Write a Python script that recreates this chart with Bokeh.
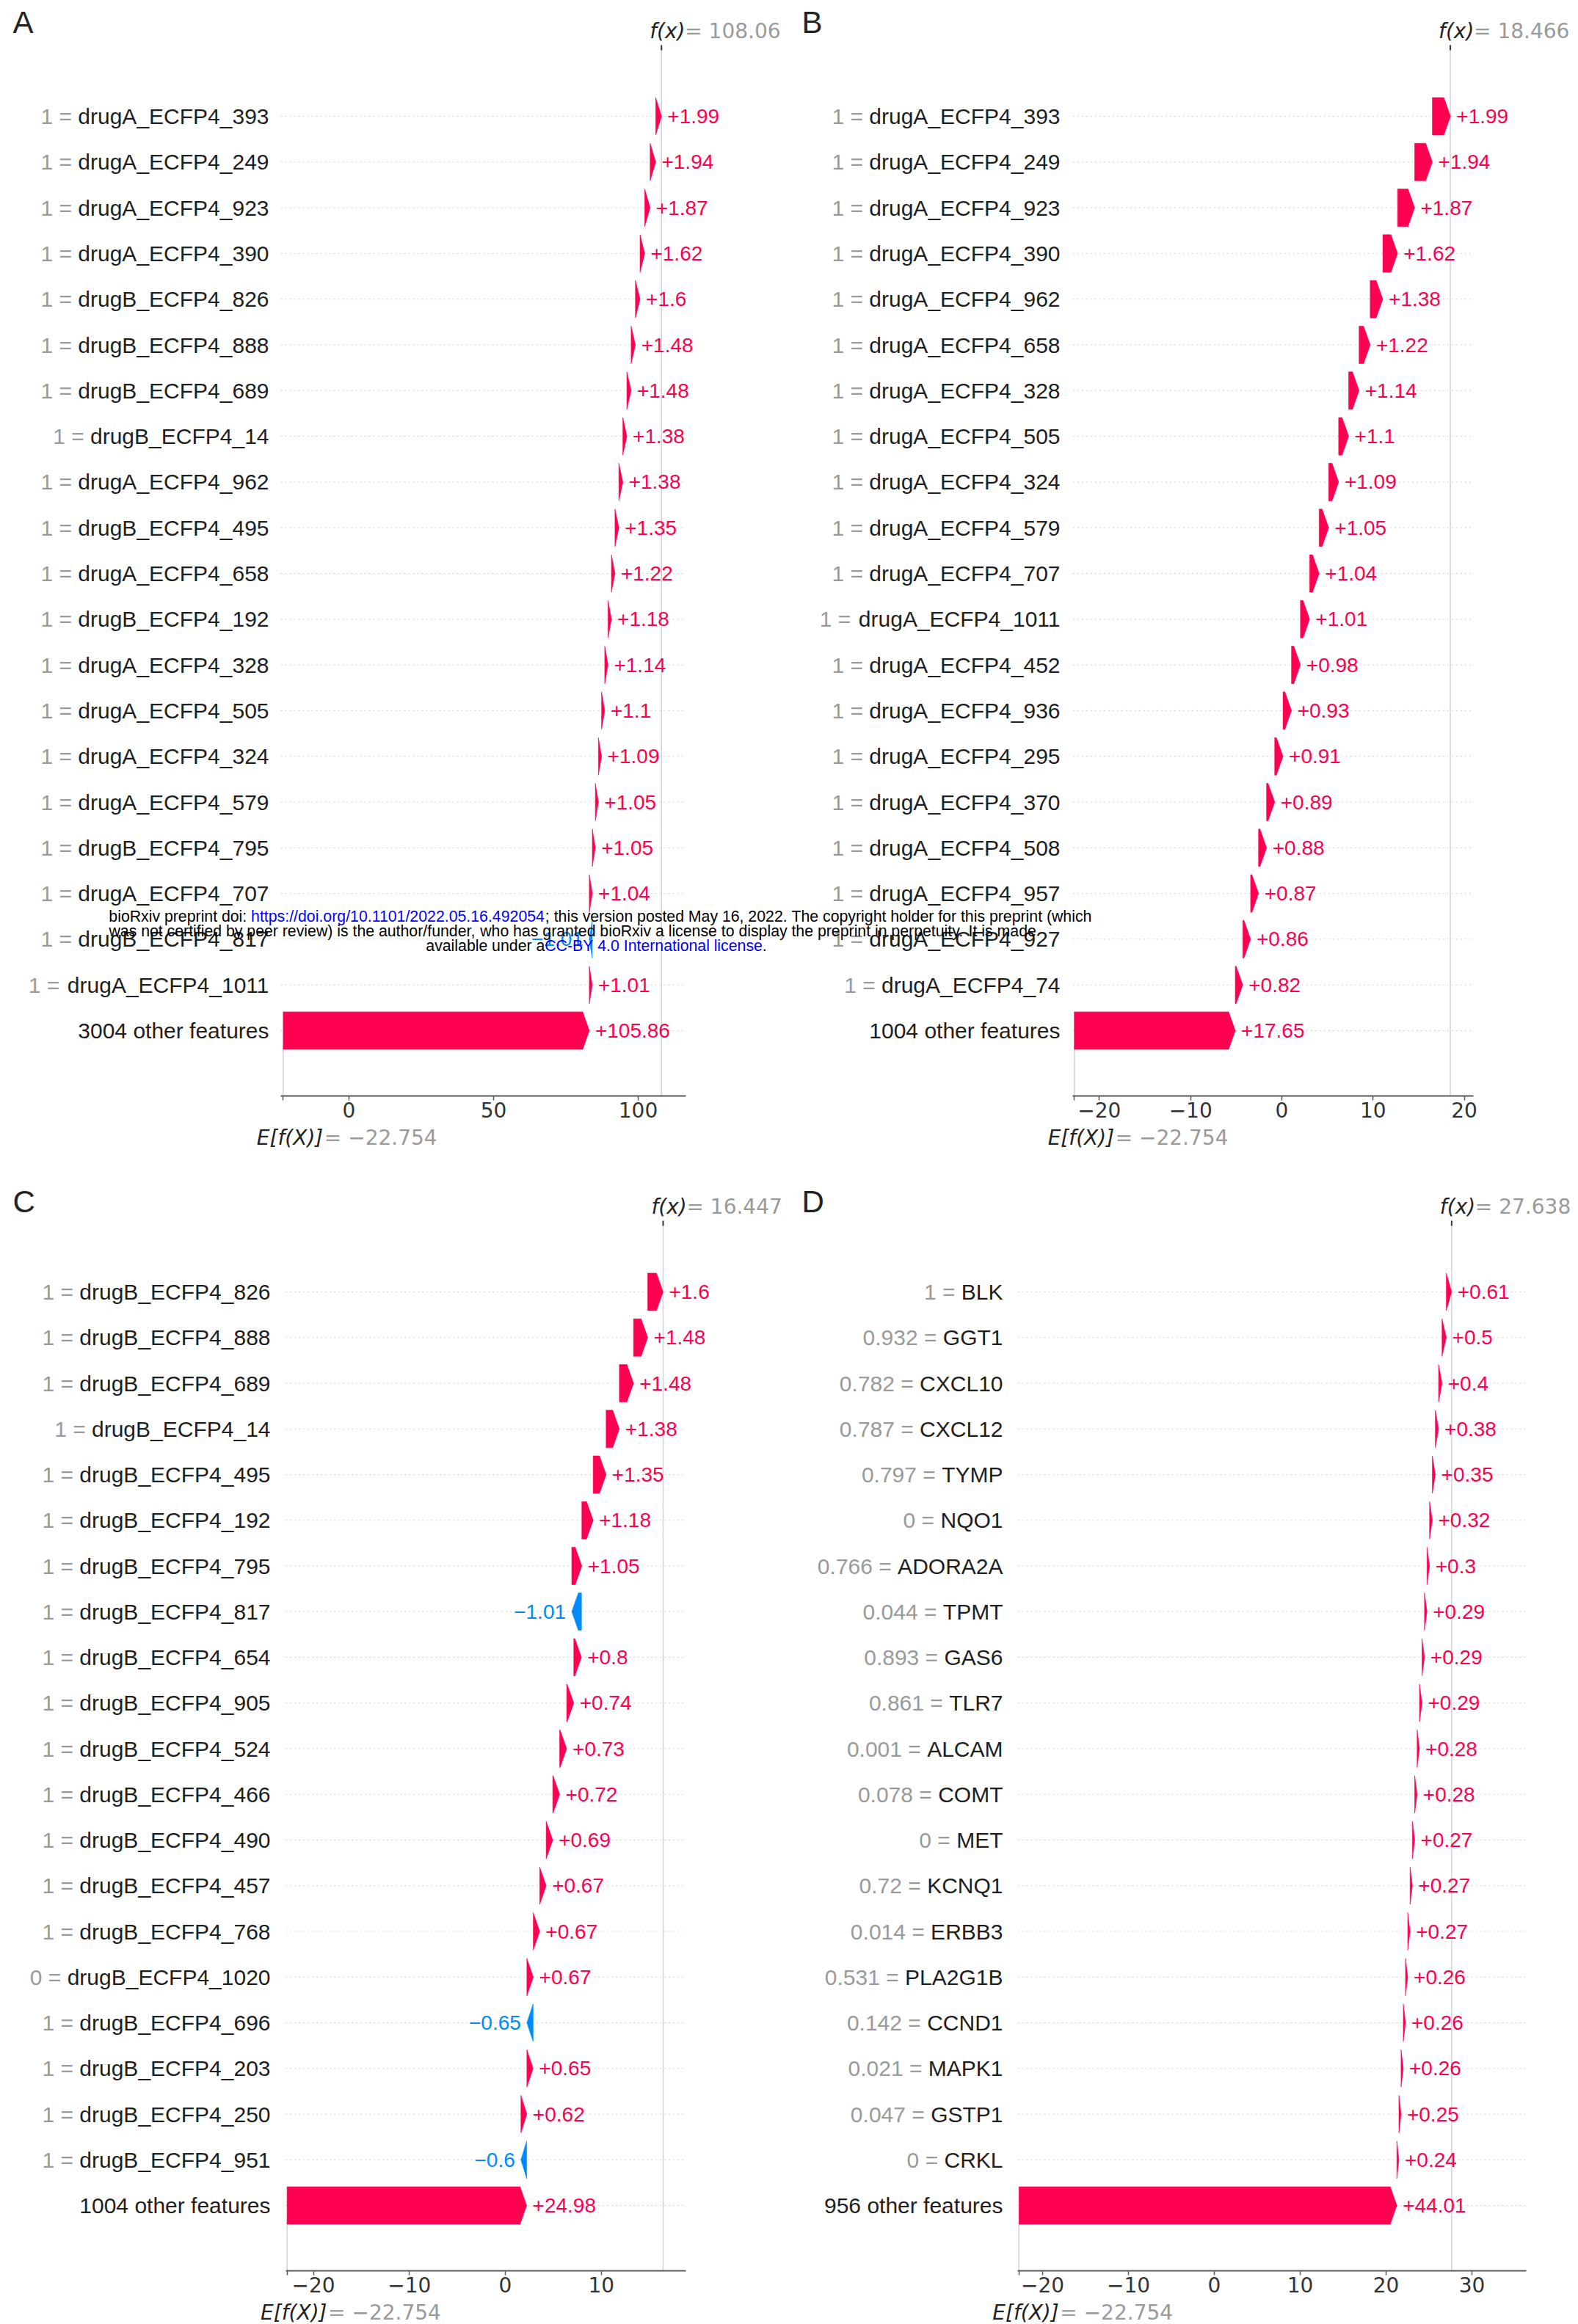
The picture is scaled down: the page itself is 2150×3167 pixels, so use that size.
import re
from bokeh.plotting import figure
from bokeh.models import Range1d, FixedTicker, Label
from bokeh.layouts import column, row
from bokeh.embed import file_html
from bokeh.resources import INLINE
from bokeh.core.properties import value

# ---------------- data ----------------
BASE_VALUE = -22.754

A_NAMES = ["drugA_ECFP4_393", "drugA_ECFP4_249", "drugA_ECFP4_923", "drugA_ECFP4_390",
           "drugB_ECFP4_826", "drugB_ECFP4_888", "drugB_ECFP4_689", "drugB_ECFP4_14",
           "drugA_ECFP4_962", "drugB_ECFP4_495", "drugA_ECFP4_658", "drugB_ECFP4_192",
           "drugA_ECFP4_328", "drugA_ECFP4_505", "drugA_ECFP4_324", "drugA_ECFP4_579",
           "drugB_ECFP4_795", "drugA_ECFP4_707", "drugB_ECFP4_817", "drugA_ECFP4_1011"]
A_FVALS = ["1"] * 20
A_SHAP = [1.99, 1.94, 1.87, 1.62, 1.6, 1.48, 1.48, 1.38, 1.38, 1.35,
          1.22, 1.18, 1.14, 1.1, 1.09, 1.05, 1.05, 1.04, -1.01, 1.01]
A_REST_LABEL = "3004 other features"
A_REST = 105.86
A_FX = 108.06
A_TICKS = [0, 50, 100]

B_NAMES = ["drugA_ECFP4_393", "drugA_ECFP4_249", "drugA_ECFP4_923", "drugA_ECFP4_390",
           "drugA_ECFP4_962", "drugA_ECFP4_658", "drugA_ECFP4_328", "drugA_ECFP4_505",
           "drugA_ECFP4_324", "drugA_ECFP4_579", "drugA_ECFP4_707", "drugA_ECFP4_1011",
           "drugA_ECFP4_452", "drugA_ECFP4_936", "drugA_ECFP4_295", "drugA_ECFP4_370",
           "drugA_ECFP4_508", "drugA_ECFP4_957", "drugA_ECFP4_927", "drugA_ECFP4_74"]
B_FVALS = ["1"] * 20
B_SHAP = [1.99, 1.94, 1.87, 1.62, 1.38, 1.22, 1.14, 1.1, 1.09, 1.05,
          1.04, 1.01, 0.98, 0.93, 0.91, 0.89, 0.88, 0.87, 0.86, 0.82]
B_REST_LABEL = "1004 other features"
B_REST = 17.65
B_FX = 18.466
B_TICKS = [-20, -10, 0, 10, 20]

C_NAMES = ["drugB_ECFP4_826", "drugB_ECFP4_888", "drugB_ECFP4_689", "drugB_ECFP4_14",
           "drugB_ECFP4_495", "drugB_ECFP4_192", "drugB_ECFP4_795", "drugB_ECFP4_817",
           "drugB_ECFP4_654", "drugB_ECFP4_905", "drugB_ECFP4_524", "drugB_ECFP4_466",
           "drugB_ECFP4_490", "drugB_ECFP4_457", "drugB_ECFP4_768", "drugB_ECFP4_1020",
           "drugB_ECFP4_696", "drugB_ECFP4_203", "drugB_ECFP4_250", "drugB_ECFP4_951"]
C_FVALS = ["1"] * 15 + ["0"] + ["1"] * 4
C_SHAP = [1.6, 1.48, 1.48, 1.38, 1.35, 1.18, 1.05, -1.01, 0.8, 0.74,
          0.73, 0.72, 0.69, 0.67, 0.67, 0.67, -0.65, 0.65, 0.62, -0.6]
C_REST_LABEL = "1004 other features"
C_REST = 24.98
C_FX = 16.447
C_TICKS = [-20, -10, 0, 10]

D_NAMES = ["BLK", "GGT1", "CXCL10", "CXCL12", "TYMP", "NQO1", "ADORA2A", "TPMT", "GAS6", "TLR7",
           "ALCAM", "COMT", "MET", "KCNQ1", "ERBB3", "PLA2G1B", "CCND1", "MAPK1", "GSTP1", "CRKL"]
D_FVALS = ["1", "0.932", "0.782", "0.787", "0.797", "0", "0.766", "0.044", "0.893", "0.861",
           "0.001", "0.078", "0", "0.72", "0.014", "0.531", "0.142", "0.021", "0.047", "0"]
D_SHAP = [0.61, 0.5, 0.4, 0.38, 0.35, 0.32, 0.3, 0.29, 0.29, 0.29,
          0.28, 0.28, 0.27, 0.27, 0.27, 0.26, 0.26, 0.26, 0.25, 0.24]
D_REST_LABEL = "956 other features"
D_REST = 44.01
D_FX = 27.638
D_TICKS = [-20, -10, 0, 10, 20, 30]

WM_LINES = [
    [("bioRxiv preprint doi: ", "#000000"), ("https://doi.org/10.1101/2022.05.16.492054", "#0000ff"),
     ("; this version posted May 16, 2022. The copyright holder for this preprint (which", "#000000")],
    [("was not certified by peer review) is the author/funder, who has granted bioRxiv a license to display the preprint in perpetuity. It is made", "#000000")],
    [("available under a", "#000000"), ("CC-BY 4.0 International license", "#0000ff"), (".", "#000000")],
]

# ---------------- style / layout ----------------
FONT = "Liberation Sans"
MATH_FONT = "DejaVu Sans"
RED = "#ff0051"
BLUE = "#008bfb"
FS_LAB = 30
FS_VAL = 28
FS_TICK = 28
FS_MATH = 28
AXIS_BORDER = 42

CHAR_W = {}
for chars, w in [("'", 191), ("ijl", 222), (" !,./:;I[]\\ft", 278), ("()-r", 333), ('"', 355),
                 ("*", 389), ("cksvxyzJ", 500), ("+<=>", 584), ("FTZ", 611), ("ABEKPSVXY&", 667),
                 ("CDHNRUw", 722), ("GOQ", 778), ("mM", 833), ("%", 889), ("W", 944), ("@", 1015)]:
    for ch in chars:
        CHAR_W[ch] = w


def em_width(s):
    return sum(CHAR_W.get(ch, 556) for ch in s) / 1000.0


def fmt(v):
    return ("\u2212" if v < 0 else "") + "%g" % abs(v)


GEOM = {
    "A": dict(left=0, right=1075, top=0, bottom=1604, axis_y=1493, row0=158, step=62.3,
              zero_x=475, ppu=3.94, lo=-23.6, hi=116.5, label_right=366, letter_y=30),
    "B": dict(left=1075, right=2150, top=0, bottom=1604, axis_y=1493, row0=158, step=62.3,
              zero_x=1746, ppu=12.43, lo=-22.9, hi=21.0, label_right=1444, letter_y=30),
    "C": dict(left=0, right=1075, top=1604, bottom=3167, axis_y=3094, row0=1760, step=62.25,
              zero_x=688, ppu=13.07, lo=-22.9, hi=18.8, label_right=368, letter_y=1637),
    "D": dict(left=1075, right=2150, top=1604, bottom=3167, axis_y=3094, row0=1760, step=62.25,
              zero_x=1654, ppu=11.70, lo=-22.9, hi=36.3, label_right=1366, letter_y=1637),
}
WM_CENTER_X = 812
WM_Y0 = 1248
WM_DY = 20
WM_WIDTH = 1339
SPLIT_X = 1075


def watermark_words():
    line1 = "".join(t for t, _ in WM_LINES[0])
    wfs = WM_WIDTH / em_width(line1)
    out = []
    for li, pieces in enumerate(WM_LINES):
        full = "".join(t for t, _ in pieces)
        x = WM_CENTER_X - em_width(full) * wfs / 2
        words = []
        for txt, col in pieces:
            for word in re.findall(r"\S+\s*", txt):
                w = word.rstrip()
                words.append([x, x + em_width(w) * wfs, w, col])
                x += em_width(word) * wfs
        # if a word straddles the panel seam, slide the whole line a little so the
        # seam falls into the nearest gap between words
        if any(a < SPLIT_X < b for a, b, _, _ in words):
            gaps = [(words[k][1] + words[k + 1][0]) / 2 for k in range(len(words) - 1)]
            best = min(gaps, key=lambda c: abs(c - SPLIT_X))
            delta = SPLIT_X - best
            for wd in words:
                wd[0] += delta
                wd[1] += delta
        for a, b, w, col in words:
            out.append((a, WM_Y0 + WM_DY * li, w, col))
    return out, wfs


def make_panel(letter, names, fvals, shap, rest_label, rest, fx, ticks, watermark=False):
    g = GEOM[letter]
    W = g["right"] - g["left"]
    Hm = g["axis_y"] + AXIS_BORDER - g["top"]
    Hs = g["bottom"] - (g["axis_y"] + AXIS_BORDER)
    step, row0 = g["step"], g["row0"]
    xr = Range1d((g["left"] - g["zero_x"]) / g["ppu"], (g["right"] - g["zero_x"]) / g["ppu"])
    yr = Range1d((g["axis_y"] - row0) / step, (g["top"] - row0) / step)
    p = figure(width=W, height=Hm, x_range=xr, y_range=yr, output_backend="svg",
               toolbar_location=None, y_axis_location=None, title_location=None,
               min_border_left=0, min_border_right=0, min_border_top=0,
               min_border_bottom=AXIS_BORDER, outline_line_color=None,
               background_fill_color="white", border_fill_color="white")
    p.xgrid.visible = False
    p.ygrid.visible = False
    p.extra_x_ranges = {"px": Range1d(g["left"], g["right"])}
    p.extra_y_ranges = {"py": Range1d(g["axis_y"], g["top"])}

    n = len(shap)
    vals = list(shap) + [rest]
    starts = [0.0] * (n + 1)
    ends = [0.0] * (n + 1)
    starts[n] = BASE_VALUE
    ends[n] = BASE_VALUE + rest
    for i in range(n - 1, -1, -1):
        starts[i] = ends[i + 1]
        ends[i] = starts[i] + shap[i]
    rows = list(range(n + 1))

    # dotted row lines
    p.segment(x0=[g["lo"]] * (n + 1), x1=[g["hi"]] * (n + 1), y0=rows, y1=rows,
              line_color="#d0d0d0", line_width=1, line_dash="2 4")
    # vertical reference lines
    i_top = -90.0 / step
    y_bot = yr.start
    p.segment(x0=[fx], x1=[fx], y0=[i_top], y1=[y_bot], line_color="#cccccc", line_width=1.3)
    p.segment(x0=[BASE_VALUE], x1=[BASE_VALUE], y0=[y_bot],
              y1=[y_bot - (y_bot - i_top) / (n + 1)], line_color="#cccccc", line_width=1.3)
    p.segment(x0=[fx], x1=[fx], y0=[i_top], y1=[i_top - 7.0 / step], line_color="#333333", line_width=2)

    # arrows
    hl = 9.0 / g["ppu"]
    hh = 0.41
    xs_list, ys_list, cols = [], [], []
    for i, (s, e, v) in enumerate(zip(starts, ends, vals)):
        sgn = 1 if v >= 0 else -1
        if abs(e - s) > hl:
            xs = [s, e - sgn * hl, e, e - sgn * hl, s]
            ys = [i - hh, i - hh, i, i + hh, i + hh]
        else:
            xs = [s, e, s]
            ys = [i - hh, i, i + hh]
        xs_list.append(xs)
        ys_list.append(ys)
        cols.append(RED if v >= 0 else BLUE)
    p.patches(xs_list, ys_list, fill_color=cols, line_color=cols, line_width=0.6)

    # value labels
    pos = [i for i in rows if vals[i] >= 0]
    neg = [i for i in rows if vals[i] < 0]
    p.text(x=[ends[i] for i in pos], y=pos, text=["+" + fmt(vals[i]) for i in pos],
           x_offset=8, text_align="left", text_baseline="middle",
           text_font=value(FONT), text_font_size="%dpx" % FS_VAL, text_color=RED)
    if neg:
        p.text(x=[ends[i] for i in neg], y=neg, text=[fmt(vals[i]) for i in neg],
               x_offset=-8, text_align="right", text_baseline="middle",
               text_font=value(FONT), text_font_size="%dpx" % FS_VAL, text_color=BLUE)

    # row labels
    lr = g["label_right"]
    p.text(x=[lr] * n, y=rows[:n], text=names, x_range_name="px",
           text_align="right", text_baseline="middle", text_font=value(FONT),
           text_font_size="%dpx" % FS_LAB, text_color="#1e1e1e")
    gx = [lr - (em_width(nm) + 0.278) * FS_LAB for nm in names]
    p.text(x=gx, y=rows[:n], text=["%s =" % fv for fv in fvals], x_range_name="px",
           text_align="right", text_baseline="middle", text_font=value(FONT),
           text_font_size="%dpx" % FS_LAB, text_color="#9a9a9a")
    p.text(x=[lr], y=[n], text=[rest_label], x_range_name="px",
           text_align="right", text_baseline="middle", text_font=value(FONT),
           text_font_size="%dpx" % FS_LAB, text_color="#1e1e1e")

    # panel letter
    p.add_layout(Label(x=g["left"] + 17, y=g["letter_y"], x_range_name="px", y_range_name="py",
                       text=letter, text_font=FONT, text_font_size="42px",
                       text_color="#222222", text_baseline="middle", text_align="left"))
    # f(x) label
    fy = row0 - 116
    p.add_layout(Label(x=fx, y=fy, y_range_name="py", x_offset=-16, text="f(x)",
                       text_font=MATH_FONT, text_font_style="italic", text_font_size="%dpx" % FS_MATH,
                       text_color="#222222", text_baseline="middle", text_align="left"))
    p.add_layout(Label(x=fx, y=fy, y_range_name="py", x_offset=32, text="= " + fmt(fx),
                       text_font=MATH_FONT, text_font_size="%dpx" % FS_MATH,
                       text_color="#9a9a9a", text_baseline="middle", text_align="left"))

    # axis
    ax = p.xaxis[0]
    ax.ticker = FixedTicker(ticks=list(ticks) + [BASE_VALUE])
    ov = {t: fmt(t) for t in ticks}
    ov[BASE_VALUE] = ""
    ax.major_label_overrides = ov
    ax.bounds = (g["lo"], g["hi"])
    ax.axis_line_color = "#5a5a5a"
    ax.axis_line_width = 2
    ax.major_tick_line_color = "#5a5a5a"
    ax.major_tick_line_width = 1.5
    ax.major_tick_out = 6
    ax.major_tick_in = 0
    ax.minor_tick_line_color = None
    ax.major_label_standoff = 2
    ax.major_label_text_font = MATH_FONT
    ax.major_label_text_font_size = "%dpx" % FS_TICK
    ax.major_label_text_color = "#333333"

    # bioRxiv watermark (spans panels A and B)
    if watermark:
        words, wfs = watermark_words()
        mine = [wd for wd in words if g["left"] <= wd[0] < g["right"]]
        p.text(x=[m[0] for m in mine], y=[m[1] for m in mine], text=[m[2] for m in mine],
               text_color=[m[3] for m in mine], x_range_name="px", y_range_name="py",
               text_align="left", text_baseline="middle", text_font=value(FONT),
               text_font_size="%.1fpx" % wfs)

    # strip under the axis holding the E[f(X)] label
    s_top = g["axis_y"] + AXIS_BORDER
    s = figure(width=W, height=Hs, x_range=xr, y_range=Range1d(g["bottom"], s_top),
               output_backend="svg", toolbar_location=None, x_axis_location=None,
               y_axis_location=None, title_location=None, min_border_left=0,
               min_border_right=0, min_border_top=0, min_border_bottom=0,
               outline_line_color=None, background_fill_color="white", border_fill_color="white")
    s.xgrid.visible = False
    s.ygrid.visible = False
    ey = min(g["axis_y"] + 57, g["bottom"] - 16)
    s.text(x=[BASE_VALUE], y=[ey], text=["E[f(X)]"], x_offset=-36, text_align="left",
           text_baseline="middle", text_font=value(MATH_FONT), text_font_style="italic",
           text_font_size="%dpx" % FS_MATH, text_color="#222222")
    s.text(x=[BASE_VALUE], y=[ey], text=["= " + fmt(BASE_VALUE)], x_offset=56, text_align="left",
           text_baseline="middle", text_font=value(MATH_FONT),
           text_font_size="%dpx" % FS_MATH, text_color="#9a9a9a")
    return column(p, s, spacing=0)


pA = make_panel("A", A_NAMES, A_FVALS, A_SHAP, A_REST_LABEL, A_REST, A_FX, A_TICKS, watermark=True)
pB = make_panel("B", B_NAMES, B_FVALS, B_SHAP, B_REST_LABEL, B_REST, B_FX, B_TICKS, watermark=True)
pC = make_panel("C", C_NAMES, C_FVALS, C_SHAP, C_REST_LABEL, C_REST, C_FX, C_TICKS)
pD = make_panel("D", D_NAMES, D_FVALS, D_SHAP, D_REST_LABEL, D_REST, D_FX, D_TICKS)

layout = column(row(pA, pB, spacing=0), row(pC, pD, spacing=0), spacing=0)
open("out.html", "w").write(file_html(layout, INLINE))
